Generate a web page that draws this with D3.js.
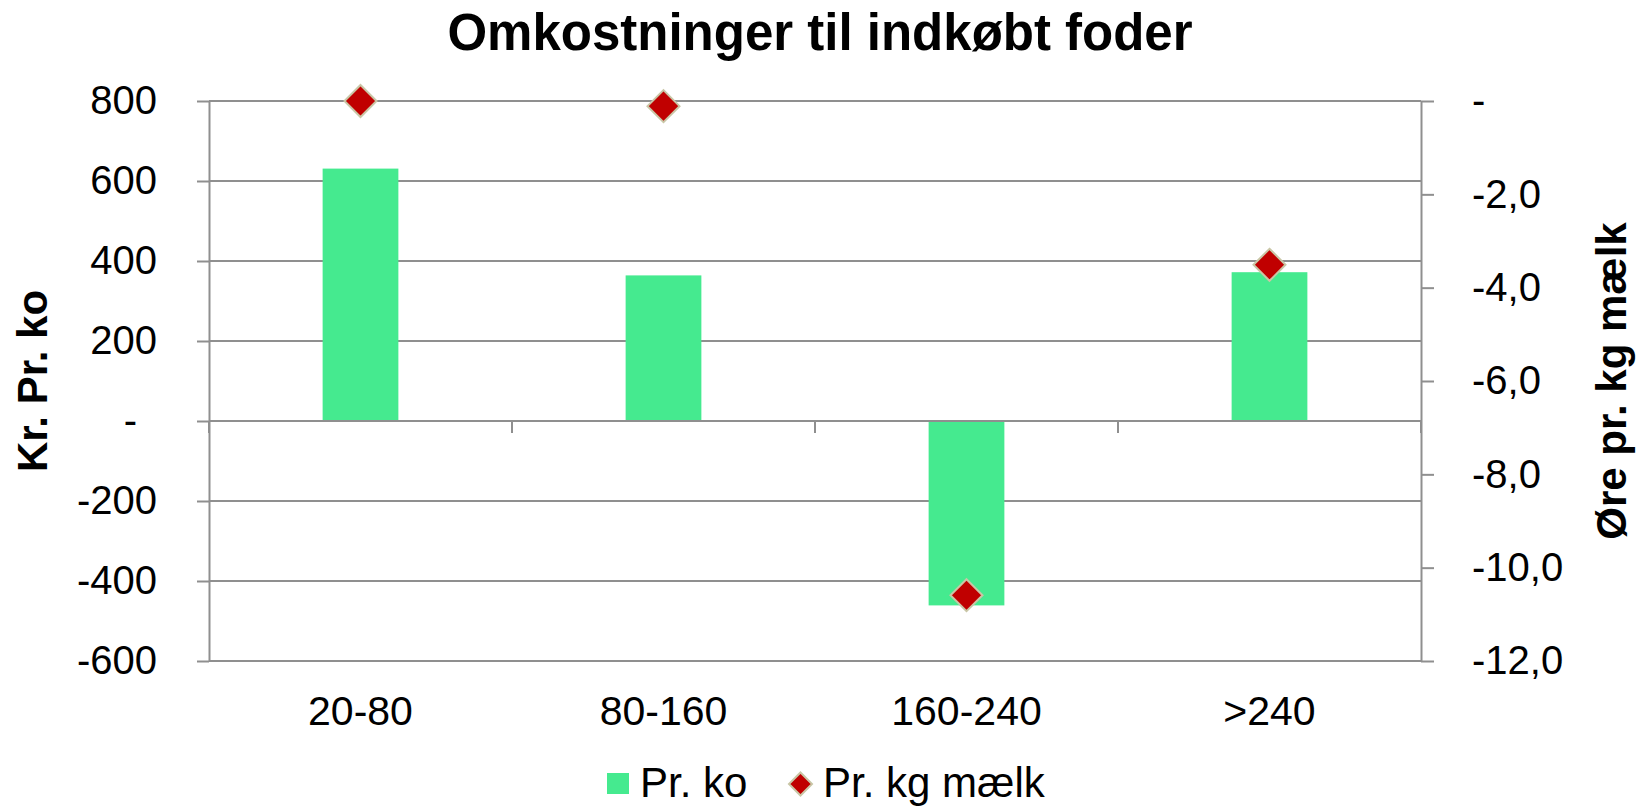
<!DOCTYPE html>
<head>
  <meta charset="utf-8">
  <script src="https://d3js.org/d3.v7.min.js"></script>
  <style>
body {
	margin:0;
	background:#fff;
	}
text {
	font-family: "Liberation Sans", Arial, sans-serif;
	fill: #000;
	}
.title {
	font-size: 51px;
	font-weight: bold;
	}
.axisTitle {
	font-size: 42px;
	font-weight: bold;
	}
.tick text {
	font-size: 40px;
	}
.catLabel {
	font-size: 41px;
	}
.legendText {
	font-size: 42px;
	}
  </style>
</head>

<body>
  <div id="graph"></div>
<script>
// Data
var categories = ["20-80", "80-160", "160-240", ">240"];
var prKo = [631, 364, -461, 372];            // Kr. pr. ko (bars, left axis)
var prKgMaelk = [0.0, -0.11, -10.59, -3.51]; // Øre pr. kg mælk (diamonds, right axis)
var leftTicks = [-600, -400, -200, 0, 200, 400, 600, 800];
var rightTicks = [-12, -10, -8, -6, -4, -2, 0];

var W = 1648, H = 807;
var plot = {left: 209, right: 1421, top: 101, bottom: 661};

var barColor = "#45EA8F",
    dotColor = "#C00000",
    dotStroke = "#C9C6A6",
    gridColor = "#8F8F8F";

var svg = d3.select("#graph")
  .append("svg")
  .attr("width", W)
  .attr("height", H);

// Scales
var x = d3.scaleBand().domain(categories).range([plot.left, plot.right]).padding(0);
var y = d3.scaleLinear().domain([-600, 800]).range([plot.bottom, plot.top]);
var y2 = d3.scaleLinear().domain([-12, 0]).range([plot.bottom, plot.top]);

// diamond path (square rotated 45deg)
function diamond(r) {
  return "M0," + (-r) + "L" + r + ",0L0," + r + "L" + (-r) + ",0Z";
}

// Gridlines
svg.append("g")
  .selectAll("line")
  .data(leftTicks)
  .enter()
  .append("line")
    .attr("x1", plot.left)
    .attr("x2", plot.right)
    .attr("y1", function(d) { return y(d); })
    .attr("y2", function(d) { return y(d); })
    .style("stroke", gridColor)
    .style("stroke-width", 2);

// Left axis
var leftAxis = svg.append("g")
  .attr("transform", "translate(" + plot.left + ",0)")
  .call(d3.axisLeft(y)
    .tickValues(leftTicks)
    .tickSizeInner(12)
    .tickSizeOuter(0)
    .tickPadding(40)
    .tickFormat(function(d) { return d === 0 ? "-" : d3.format("d")(d).replace("−", "-"); }));
leftAxis.select(".domain").style("stroke", gridColor).style("stroke-width", 2);
leftAxis.selectAll(".tick line").style("stroke", gridColor).style("stroke-width", 2);
leftAxis.selectAll(".tick text")
  .attr("dx", function(d) { return d === 0 ? -20 : 0; });

// Right axis
var rightAxis = svg.append("g")
  .attr("transform", "translate(" + plot.right + ",0)")
  .call(d3.axisRight(y2)
    .tickValues(rightTicks)
    .tickSizeInner(13)
    .tickSizeOuter(0)
    .tickPadding(38)
    .tickFormat(function(d) { return d === 0 ? "-" : d3.format(".1f")(d).replace("−", "-").replace(".", ","); }));
rightAxis.select(".domain").style("stroke", gridColor).style("stroke-width", 2);
rightAxis.selectAll(".tick line").style("stroke", gridColor).style("stroke-width", 2);

// Bars
var barW = x.bandwidth() * 0.25;
svg.append("g")
  .selectAll("rect")
  .data(prKo)
  .enter()
  .append("rect")
    .attr("x", function(d, i) { return x(categories[i]) + x.bandwidth() / 2 - barW / 2; })
    .attr("y", function(d) { return y(Math.max(0, d)); })
    .attr("width", barW)
    .attr("height", function(d) { return Math.abs(y(d) - y(0)); })
    .style("fill", barColor);

// Category axis on the zero line, ticks at band edges
var bounds = categories.map(function(c) { return x(c); }).concat([plot.right]);
svg.append("line")
  .attr("x1", plot.left)
  .attr("x2", plot.right)
  .attr("y1", y(0))
  .attr("y2", y(0))
  .style("stroke", gridColor)
  .style("stroke-width", 2);
svg.append("g")
  .selectAll("line")
  .data(bounds)
  .enter()
  .append("line")
    .attr("x1", function(d) { return d; })
    .attr("x2", function(d) { return d; })
    .attr("y1", y(0))
    .attr("y2", y(0) + 12)
    .style("stroke", gridColor)
    .style("stroke-width", 2);

// Category labels below the plot
svg.append("g")
  .selectAll("text")
  .data(categories)
  .enter()
  .append("text")
    .attr("class", "catLabel")
    .attr("x", function(d) { return x(d) + x.bandwidth() / 2; })
    .attr("y", 725)
    .style("text-anchor", "middle")
    .text(function(d) { return d; });

// Diamonds
svg.append("g")
  .selectAll("path")
  .data(prKgMaelk)
  .enter()
  .append("path")
    .attr("d", diamond(16))
    .attr("transform", function(d, i) {
      return "translate(" + (x(categories[i]) + x.bandwidth() / 2) + "," + y2(d) + ")";
    })
    .style("fill", dotColor)
    .style("stroke", dotStroke)
    .style("stroke-width", 2);

// Title
svg.append("text")
  .attr("class", "title")
  .attr("x", 820)
  .attr("y", 50)
  .style("text-anchor", "middle")
  .text("Omkostninger til indkøbt foder");

// Axis titles
svg.append("text")
  .attr("class", "axisTitle")
  .attr("transform", "translate(47," + (plot.top + plot.bottom) / 2 + ") rotate(-90)")
  .style("text-anchor", "middle")
  .text("Kr. Pr. ko");

svg.append("text")
  .attr("class", "axisTitle")
  .attr("transform", "translate(1626," + (plot.top + plot.bottom) / 2 + ") rotate(-90)")
  .style("text-anchor", "middle")
  .text("Øre pr. kg mælk");

// Legend
var legend = svg.append("g");
legend.append("rect")
  .attr("x", 607)
  .attr("y", 773)
  .attr("width", 22)
  .attr("height", 21)
  .style("fill", barColor);
legend.append("text")
  .attr("class", "legendText")
  .attr("x", 640)
  .attr("y", 797)
  .text("Pr. ko");
legend.append("path")
  .attr("d", diamond(11.5))
  .attr("transform", "translate(800.5,784)")
  .style("fill", dotColor)
  .style("stroke", dotStroke)
  .style("stroke-width", 2);
legend.append("text")
  .attr("class", "legendText")
  .attr("x", 823)
  .attr("y", 797)
  .text("Pr. kg mælk");
</script>
</body>
